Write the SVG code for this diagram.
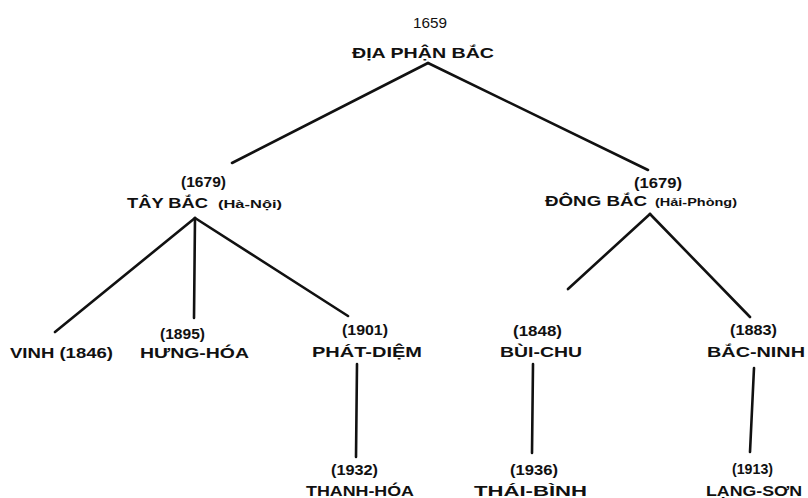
<svg xmlns="http://www.w3.org/2000/svg" width="808" height="498" viewBox="0 0 808 498">
<style>
.t{font-family:"Liberation Sans","DejaVu Sans",sans-serif;font-size:15px;fill:#111;font-weight:bold}
.n{font-weight:normal}
.s{font-size:11px}
.c{stroke:#111;stroke-width:2.6;stroke-linecap:round;fill:none}
</style>
<rect width="808" height="498" fill="#fff"/>
<g id="connectors">
<path class="c" d="M428,63 L232,163"/>
<path class="c" d="M428,63 L648,170"/>
<path class="c" d="M195,218 L55,332"/>
<path class="c" d="M195,218 L194,318"/>
<path class="c" d="M195,218 L348,316"/>
<path class="c" d="M650,214 L568,289"/>
<path class="c" d="M650,214 L750,317"/>
<path class="c" d="M357,364 L356,457"/>
<path class="c" d="M533,364 L532,453"/>
<path class="c" d="M754,368 L750,452"/>
</g>
<g id="root">
<text class="t n" x="413" y="28" font-size="16" textLength="34" lengthAdjust="spacingAndGlyphs">1659</text>
<text class="t" x="352" y="58" font-size="16" textLength="142" lengthAdjust="spacingAndGlyphs">ĐỊA PHẬN BẮC</text>
</g>
<g id="tay-bac">
<text class="t" x="181" y="187" textLength="45" lengthAdjust="spacingAndGlyphs">(1679)</text>
<text class="t" x="127" y="208" textLength="81" lengthAdjust="spacingAndGlyphs">TÂY BẮC</text>
<text class="t s" x="218" y="208" textLength="64" lengthAdjust="spacingAndGlyphs">(Hà-Nội)</text>
</g>
<g id="dong-bac">
<text class="t" x="634" y="188" textLength="48" lengthAdjust="spacingAndGlyphs">(1679)</text>
<text class="t" x="545" y="206" textLength="102" lengthAdjust="spacingAndGlyphs">ĐÔNG BẮC</text>
<text class="t s" x="655" y="206" textLength="82" lengthAdjust="spacingAndGlyphs">(Hải-Phòng)</text>
</g>
<g id="vinh">
<text class="t" x="10" y="358" textLength="103" lengthAdjust="spacingAndGlyphs">VINH (1846)</text>
</g>
<g id="hung-hoa">
<text class="t" x="160" y="339" textLength="45" lengthAdjust="spacingAndGlyphs">(1895)</text>
<text class="t" x="140" y="358" textLength="109" lengthAdjust="spacingAndGlyphs">HƯNG-HÓA</text>
</g>
<g id="phat-diem">
<text class="t" x="342" y="335" textLength="46" lengthAdjust="spacingAndGlyphs">(1901)</text>
<text class="t" x="312" y="357" textLength="110" lengthAdjust="spacingAndGlyphs">PHÁT-DIỆM</text>
</g>
<g id="bui-chu">
<text class="t" x="513" y="336" textLength="49" lengthAdjust="spacingAndGlyphs">(1848)</text>
<text class="t" x="500" y="357" textLength="82" lengthAdjust="spacingAndGlyphs">BÙI-CHU</text>
</g>
<g id="bac-ninh">
<text class="t" x="730" y="335" textLength="47" lengthAdjust="spacingAndGlyphs">(1883)</text>
<text class="t" x="707" y="357" textLength="98" lengthAdjust="spacingAndGlyphs">BẮC-NINH</text>
</g>
<g id="thanh-hoa">
<text class="t" x="331" y="475" textLength="47" lengthAdjust="spacingAndGlyphs">(1932)</text>
<text class="t" x="306" y="496" textLength="108" lengthAdjust="spacingAndGlyphs">THANH-HÓA</text>
</g>
<g id="thai-binh">
<text class="t" x="510" y="475" textLength="48" lengthAdjust="spacingAndGlyphs">(1936)</text>
<text class="t" x="474" y="496" textLength="113" lengthAdjust="spacingAndGlyphs">THÁI-BÌNH</text>
</g>
<g id="lang-son">
<text class="t" x="732" y="474" textLength="41" lengthAdjust="spacingAndGlyphs">(1913)</text>
<text class="t" x="706" y="496" textLength="96" lengthAdjust="spacingAndGlyphs">LẠNG-SƠN</text>
</g>
</svg>
